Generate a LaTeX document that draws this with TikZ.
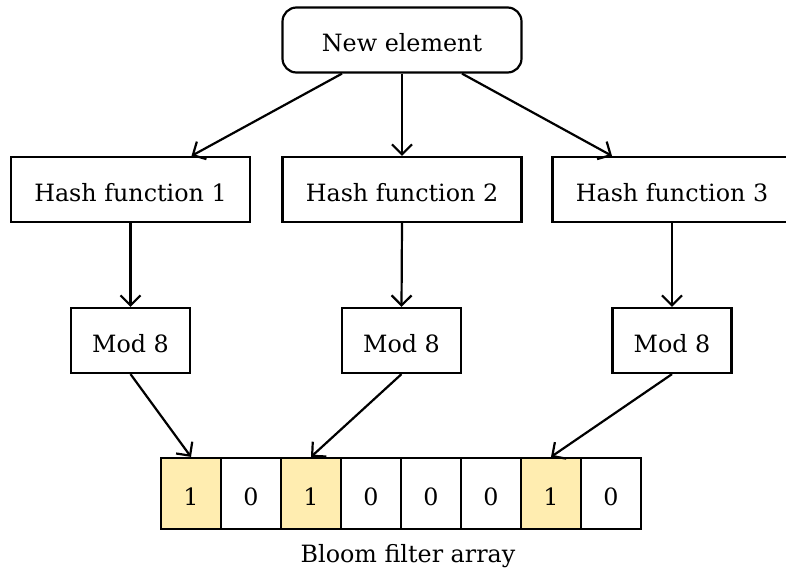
\documentclass[tikz,border=0pt]{standalone}
\usepackage{fontspec}
\setmainfont{DejaVu Serif}
\usetikzlibrary{arrows.meta}
\definecolor{bitset}{HTML}{FFEDB0}
\begin{document}
\begin{tikzpicture}[x=1pt, y=-1pt, line width=2.2pt,
  font=\fontsize{23.8}{28}\selectfont,
  txt/.style={text height=23pt, text depth=0pt, inner sep=0pt},
  box/.style={txt, draw, rectangle, minimum width=239pt, minimum height=65pt},
  modbox/.style={txt, draw, rectangle, minimum width=119pt, minimum height=65pt},
  cell/.style={txt, draw, rectangle, minimum width=60pt, minimum height=71pt},
  arr/.style={-{Straight Barb[length=10pt, width=20pt]}}]
\useasboundingbox (0,0) rectangle (786,574);

% source element
\node[box, rounded corners=14pt] (new) at (402,40) {New element};

% hash functions
\node[box] (h1) at (130.5,189.5) {Hash function 1};
\node[box] (h2) at (402,189.5) {Hash function 2};
\node[box] (h3) at (672,189.5) {Hash function 3};

% modulo stages
\node[modbox] (m1) at (130.5,340.5) {Mod 8};
\node[modbox] (m2) at (401.5,340.5) {Mod 8};
\node[modbox] (m3) at (672,340.5) {Mod 8};

% bit array
\foreach \i/\b/\f in {0/1/bitset,1/0/white,2/1/bitset,3/0/white,4/0/white,5/0/white,6/1/bitset,7/0/white}
  \node[cell, fill=\f] (c\i) at (191+60*\i,493.5) {\b};
\node (label) at (408,556) {Bloom filter array};

% connectors
\draw[arr] ([xshift=-60pt]new.south) -- ([xshift=61pt]h1.north);
\draw[arr] (new.south) -- (h2.north);
\draw[arr] ([xshift=60pt]new.south) -- ([xshift=-60pt]h3.north);
\draw[arr] (h1.south) -- (m1.north);
\draw[arr] (h2.south) -- (m2.north);
\draw[arr] (h3.south) -- (m3.north);
\draw[arr] (m1.south) -- (c0.north);
\draw[arr] (m2.south) -- (c2.north);
\draw[arr] (m3.south) -- (c6.north);
\end{tikzpicture}
\end{document}
